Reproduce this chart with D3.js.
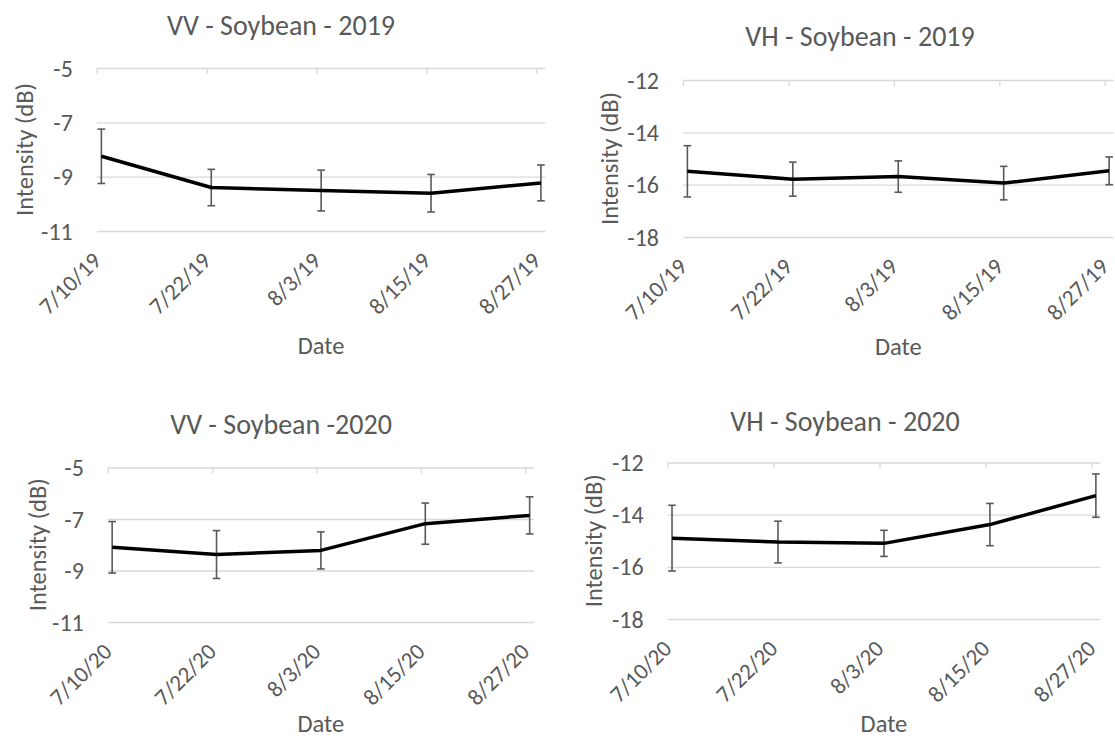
<!DOCTYPE html>
<html>
<head>
<meta charset="utf-8">
<script src="https://cdn.jsdelivr.net/npm/d3@7"></script>
<style>
  html, body { margin: 0; padding: 0; background: #fff; }
  svg { display: block; }
  text { font-family: Carlito, Calibri, Lato, "Noto Sans", sans-serif; fill: #595959; }
</style>
</head>
<body>
<svg id="chart" width="1115" height="740"></svg>
<script>
// Acquisition dates (M/D/YY) for each season
const dates2019 = ["7/10/19", "7/22/19", "8/3/19", "8/15/19", "8/27/19"];
const dates2020 = ["7/10/20", "7/22/20", "8/3/20", "8/15/20", "8/27/20"];

// Mean backscatter intensity (dB) and standard deviation per date
const vv2019 = [-8.25, -9.40, -9.51, -9.61, -9.23];
const vv2019Sd = [1.00, 0.67, 0.75, 0.69, 0.66];
const vh2019 = [-15.49, -15.79, -15.69, -15.94, -15.47];
const vh2019Sd = [0.98, 0.65, 0.60, 0.64, 0.53];
const vv2020 = [-8.10, -8.38, -8.22, -7.18, -6.86];
const vv2020Sd = [1.00, 0.93, 0.72, 0.80, 0.72];
const vh2020 = [-14.90, -15.05, -15.10, -14.38, -13.27];
const vh2020Sd = [1.26, 0.80, 0.50, 0.81, 0.83];

// Y axis tick values for each polarisation
const vvTicks = [-5, -7, -9, -11];
const vhTicks = [-12, -14, -16, -18];

const titles = ["VV - Soybean - 2019", "VH - Soybean - 2019", "VV - Soybean -2020", "VH - Soybean - 2020"];

const parseDate = d3.utcParse("%m/%d/%y");
const svg = d3.select("#chart");

const panels = [
  { title: titles[0], dates: dates2019, values: vv2019, sd: vv2019Sd, ticks: vvTicks,
    box: { left: 96.8, right: 545.5, top: 68, bottom: 231 }, titleX: 281, titleY: 35, yTitleX: 33, dateY: 354 },
  { title: titles[1], dates: dates2019, values: vh2019, sd: vh2019Sd, ticks: vhTicks,
    box: { left: 683, right: 1113.5, top: 80, bottom: 237 }, titleX: 860, titleY: 46, yTitleX: 618, dateY: 355 },
  { title: titles[2], dates: dates2020, values: vv2020, sd: vv2020Sd, ticks: vvTicks,
    box: { left: 107.8, right: 534, top: 467.5, bottom: 622 }, titleX: 281, titleY: 434, yTitleX: 46, dateY: 732 },
  { title: titles[3], dates: dates2020, values: vh2020, sd: vh2020Sd, ticks: vhTicks,
    box: { left: 667.6, right: 1100.3, top: 462.5, bottom: 619 }, titleX: 845, titleY: 431, yTitleX: 602, dateY: 732 }
];

const HALF_DAY = 12 * 60 * 60 * 1000;

panels.forEach(p => {
  const b = p.box;
  const g = svg.append("g");
  const days = p.dates.map(parseDate);
  // Date axis: ticks sit at the start of each day, points at mid-day
  const x = d3.scaleUtc()
    .domain([days[0], d3.utcDay.offset(days[days.length - 1], 1)])
    .range([b.left, b.right]);
  const y = d3.scaleLinear()
    .domain([d3.max(p.ticks), d3.min(p.ticks)])
    .range([b.top, b.bottom]);
  const px = d => x(new Date(d.getTime() + HALF_DAY));

  // Horizontal gridlines
  g.append("g")
    .attr("transform", `translate(${b.left},0)`)
    .call(d3.axisLeft(y).tickValues(p.ticks).tickSize(-(b.right - b.left)).tickFormat(""))
    .call(a => a.select(".domain").remove())
    .call(a => a.selectAll("line").attr("stroke", "#d9d9d9").attr("stroke-width", 1.3));

  // Y tick labels
  g.selectAll(".ylab").data(p.ticks).join("text")
    .attr("x", b.left - 24)
    .attr("y", d => y(d))
    .attr("dy", "0.36em")
    .attr("text-anchor", "end")
    .style("font-size", "24px")
    .text(d => d3.format("d")(d).replace("−", "-"));

  // Category tick marks hang from the top line
  g.append("g")
    .attr("transform", `translate(0,${b.top})`)
    .call(d3.axisBottom(x).tickValues(days).tickSize(6).tickFormat(""))
    .call(a => a.select(".domain").remove())
    .call(a => a.selectAll("line").attr("stroke", "#d9d9d9").attr("stroke-width", 1.3));

  // Rotated date labels below the plot
  g.selectAll(".xlab").data(days).join("text")
    .attr("transform", d => `translate(${px(d) + 1},${b.bottom + 31}) rotate(-45)`)
    .attr("text-anchor", "end")
    .style("font-size", "23px")
    .text((d, i) => p.dates[i]);

  // Error bars (± one standard deviation)
  const eb = g.append("g").attr("stroke", "#595959").attr("stroke-width", 1.6).attr("fill", "none");
  days.forEach((d, i) => {
    const cx = px(d), hi = y(p.values[i] + p.sd[i]), lo = y(p.values[i] - p.sd[i]);
    eb.append("line").attr("x1", cx).attr("x2", cx).attr("y1", hi).attr("y2", lo);
    eb.append("line").attr("x1", cx - 3.8).attr("x2", cx + 3.8).attr("y1", hi).attr("y2", hi);
    eb.append("line").attr("x1", cx - 3.8).attr("x2", cx + 3.8).attr("y1", lo).attr("y2", lo);
  });

  // Mean intensity line
  g.append("path")
    .datum(days.map((d, i) => [px(d), y(p.values[i])]))
    .attr("fill", "none")
    .attr("stroke", "#000")
    .attr("stroke-width", 3.5)
    .attr("stroke-linejoin", "round")
    .attr("d", d3.line());

  // Titles
  g.append("text")
    .attr("x", p.titleX).attr("y", p.titleY)
    .attr("text-anchor", "middle")
    .style("font-size", "28px")
    .text(p.title);

  g.append("text")
    .attr("transform", `translate(${p.yTitleX},${(b.top + b.bottom) / 2}) rotate(-90)`)
    .attr("text-anchor", "middle")
    .style("font-size", "24.5px")
    .text("Intensity (dB)");

  g.append("text")
    .attr("x", (b.left + b.right) / 2).attr("y", p.dateY)
    .attr("text-anchor", "middle")
    .style("font-size", "24.5px")
    .text("Date");
});
</script>
</body>
</html>
